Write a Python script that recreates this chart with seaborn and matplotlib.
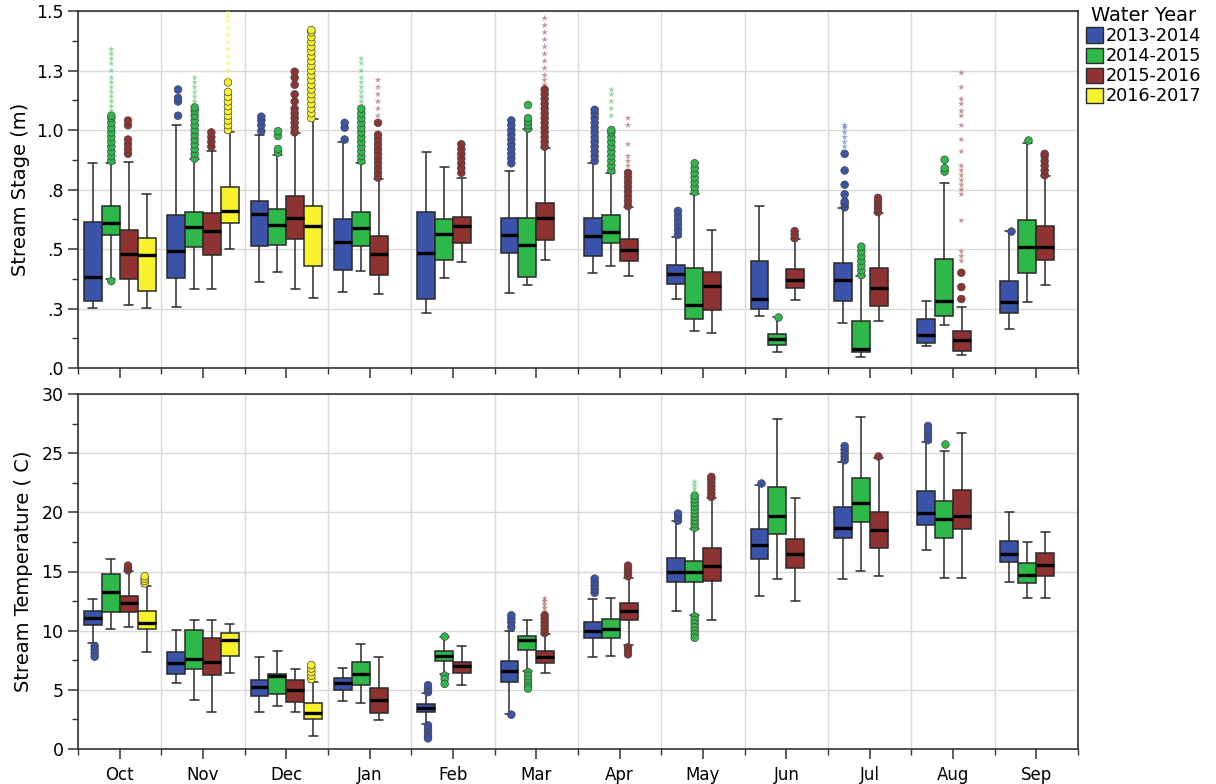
import numpy as np
import pandas as pd
import matplotlib
matplotlib.use("Agg")
import matplotlib.pyplot as plt
import seaborn as sns
from matplotlib.patches import Patch
from matplotlib.ticker import FixedLocator, MultipleLocator

# ---------- data ----------
months = ["Oct", "Nov", "Dec", "Jan", "Feb", "Mar", "Apr", "May", "Jun", "Jul", "Aug", "Sep"]
years = ["2013-2014", "2014-2015", "2015-2016", "2016-2017"]
colors = ["#3b53a8", "#2fb84a", "#8e3332", "#f7f22b"]

# box summaries per month: [low whisker, q1, median, q3, high whisker]
stage_2013 = [[0.252, 0.280, 0.382, 0.613, 0.861], [0.258, 0.377, 0.490, 0.641, 1.020],
              [0.360, 0.511, 0.646, 0.702, 0.979], [0.319, 0.412, 0.529, 0.626, 0.951],
              [0.232, 0.290, 0.482, 0.657, 0.908], [0.314, 0.482, 0.560, 0.632, 0.828],
              [0.398, 0.471, 0.556, 0.629, 0.863], [0.290, 0.352, 0.394, 0.431, 0.550],
              [0.218, 0.250, 0.288, 0.451, 0.681], [0.188, 0.282, 0.368, 0.441, 0.671],
              [0.092, 0.104, 0.140, 0.204, 0.280], [0.162, 0.232, 0.277, 0.367, 0.574]]
stage_2014 = [[0.373, 0.557, 0.611, 0.682, 0.863], [0.331, 0.507, 0.594, 0.655, 0.877],
              [0.403, 0.515, 0.599, 0.667, 0.895], [0.408, 0.513, 0.590, 0.654, 0.863],
              [0.378, 0.452, 0.562, 0.627, 0.843], [0.349, 0.384, 0.518, 0.632, 1.003],
              [0.430, 0.525, 0.570, 0.641, 0.821], [0.154, 0.207, 0.266, 0.419, 0.730],
              [0.069, 0.098, 0.123, 0.144, 0.213], [0.046, 0.066, 0.081, 0.196, 0.387],
              [0.181, 0.217, 0.280, 0.457, 0.779], [0.277, 0.401, 0.508, 0.622, 0.947]]
stage_2015 = [[0.263, 0.373, 0.479, 0.580, 0.866], [0.331, 0.476, 0.577, 0.650, 0.910],
              [0.331, 0.542, 0.629, 0.723, 0.986], [0.311, 0.392, 0.480, 0.556, 0.794],
              [0.447, 0.527, 0.595, 0.634, 0.797], [0.452, 0.538, 0.632, 0.695, 0.926],
              [0.388, 0.451, 0.497, 0.541, 0.678], [0.148, 0.242, 0.343, 0.405, 0.580],
              [0.284, 0.336, 0.370, 0.417, 0.541], [0.199, 0.261, 0.336, 0.419, 0.653],
              [0.056, 0.071, 0.119, 0.155, 0.256], [0.349, 0.454, 0.510, 0.595, 0.808]]
stage_2016 = [[0.252, 0.324, 0.473, 0.548, 0.731], [0.499, 0.608, 0.658, 0.761, 0.992],
              [0.296, 0.430, 0.595, 0.679, 1.046], None, None, None, None, None, None,
              None, None, None]

temp_2013 = [[8.95, 10.44, 11.09, 11.65, 12.66], [5.54, 6.36, 7.26, 8.16, 10.07],
             [3.15, 4.47, 5.26, 5.85, 7.77], [4.05, 4.95, 5.60, 5.97, 6.87],
             [2.14, 3.10, 3.46, 3.77, 4.73], [2.95, 5.66, 6.59, 7.46, 9.93],
             [7.77, 9.37, 9.93, 10.75, 12.64], [11.68, 14.10, 14.97, 16.18, 19.25],
             [12.95, 16.07, 17.28, 18.57, 22.32], [14.38, 17.87, 18.71, 20.43, 24.29],
             [16.80, 18.94, 19.98, 21.78, 25.98], [14.10, 15.79, 16.52, 17.56, 20.07]]
temp_2014 = [[10.16, 11.60, 13.28, 14.78, 16.07], [4.17, 6.75, 7.60, 10.07, 10.86],
             [3.63, 4.67, 6.16, 6.36, 8.25], [3.88, 5.40, 6.30, 7.35, 8.89],
             [6.30, 7.46, 7.82, 8.25, 9.45], [6.56, 8.39, 9.23, 9.57, 10.86],
             [7.85, 9.37, 10.10, 10.98, 12.75], [11.31, 14.10, 14.92, 15.90, 18.60],
             [14.38, 18.15, 19.70, 22.12, 27.89], [15.06, 19.19, 20.77, 22.88, 28.09],
             [14.47, 17.87, 19.42, 20.97, 25.22], [12.78, 13.99, 14.69, 15.70, 17.48]]
temp_2015 = [[10.33, 11.60, 12.33, 12.95, 15.08], [3.10, 6.25, 7.37, 9.37, 10.86],
             [3.10, 3.97, 4.95, 5.85, 6.73], [2.48, 3.04, 4.17, 5.15, 7.77],
             [5.38, 6.42, 6.98, 7.37, 8.67], [6.44, 7.26, 7.77, 8.25, 9.68],
             [8.75, 10.86, 11.65, 12.33, 14.49], [10.86, 14.18, 15.48, 17.00, 21.19],
             [12.47, 15.28, 16.49, 17.73, 21.25], [14.58, 16.97, 18.49, 20.07, 24.57],
             [14.47, 18.57, 19.70, 21.89, 26.68], [12.78, 14.66, 15.51, 16.55, 18.38]]
temp_2016 = [[8.19, 10.16, 10.67, 11.68, 13.76], [6.44, 7.82, 9.17, 9.77, 10.55],
             [1.07, 2.56, 3.04, 3.88, 5.63], None, None, None, None, None, None,
             None, None, None]

# outliers: (month, year index, values); circles = outliers, stars = extremes
stage_circles = [
    ("Oct", 1, [0.365, 0.87, 0.89, 0.91, 0.93, 0.95, 0.97, 0.99, 1.01, 1.03, 1.05, 1.06]),
    ("Oct", 2, [0.90, 0.92, 0.94, 0.96, 1.02, 1.04]),
    ("Nov", 0, [1.06, 1.12, 1.135, 1.17]),
    ("Nov", 1, [0.88, 0.90, 0.92, 0.94, 0.96, 0.98, 1.00, 1.02, 1.04, 1.06, 1.08, 1.095]),
    ("Nov", 2, [0.93, 0.95, 0.97, 0.99]),
    ("Nov", 3, [1.00, 1.02, 1.04, 1.06, 1.08, 1.10, 1.12, 1.14, 1.16, 1.20]),
    ("Dec", 0, [0.995, 1.02, 1.04, 1.056]),
    ("Dec", 1, [0.905, 0.92, 0.975, 0.995]),
    ("Dec", 2, [0.99, 1.01, 1.03, 1.05, 1.07, 1.09, 1.12, 1.15, 1.19, 1.22, 1.245]),
    ("Dec", 3, [1.05, 1.07, 1.09, 1.11, 1.13, 1.15, 1.17, 1.19, 1.21, 1.23, 1.25, 1.27,
                1.29, 1.31, 1.33, 1.35, 1.37, 1.39, 1.41, 1.42]),
    ("Jan", 0, [0.96, 1.01, 1.03]),
    ("Jan", 1, [0.87, 0.89, 0.91, 0.93, 0.95, 0.97, 0.99, 1.01, 1.03, 1.05, 1.07, 1.09]),
    ("Jan", 2, [0.80, 0.82, 0.84, 0.86, 0.88, 0.90, 0.92, 0.94, 0.96, 0.98, 1.03]),
    ("Feb", 2, [0.82, 0.84, 0.86, 0.88, 0.90, 0.92, 0.94]),
    ("Mar", 0, [0.86, 0.88, 0.90, 0.92, 0.94, 0.96, 0.98, 1.00, 1.02, 1.04]),
    ("Mar", 1, [1.005, 1.02, 1.035, 1.05, 1.105]),
    ("Mar", 2, [0.93, 0.95, 0.97, 0.99, 1.01, 1.03, 1.05, 1.07, 1.09, 1.11, 1.13, 1.15, 1.17]),
    ("Apr", 0, [0.87, 0.89, 0.91, 0.93, 0.95, 0.97, 0.99, 1.01, 1.03, 1.05, 1.07, 1.085]),
    ("Apr", 1, [0.83, 0.85, 0.87, 0.89, 0.91, 0.93, 0.95, 0.97, 0.99, 1.00]),
    ("Apr", 2, [0.68, 0.70, 0.72, 0.74, 0.76, 0.78, 0.80, 0.82]),
    ("May", 0, [0.56, 0.58, 0.60, 0.62, 0.64, 0.66]),
    ("May", 1, [0.74, 0.76, 0.78, 0.80, 0.82, 0.84, 0.86]),
    ("Jun", 1, [0.215]),
    ("Jun", 2, [0.545, 0.56, 0.575]),
    ("Jul", 0, [0.675, 0.69, 0.70, 0.73, 0.77, 0.83, 0.90]),
    ("Jul", 1, [0.39, 0.41, 0.43, 0.45, 0.47, 0.49, 0.51]),
    ("Jul", 2, [0.655, 0.67, 0.685, 0.70, 0.715]),
    ("Aug", 1, [0.825, 0.84, 0.875]),
    ("Aug", 2, [0.29, 0.34, 0.40]),
    ("Sep", 0, [0.575]),
    ("Sep", 1, [0.96]),
    ("Sep", 2, [0.81, 0.83, 0.85, 0.87, 0.89, 0.90]),
]
stage_stars = [
    ("Oct", 1, [1.08, 1.10, 1.12, 1.14, 1.16, 1.18, 1.20, 1.22, 1.25, 1.28, 1.30, 1.32, 1.34]),
    ("Nov", 1, [1.10, 1.12, 1.14, 1.16, 1.18, 1.20, 1.22]),
    ("Nov", 3, [1.22, 1.25, 1.28, 1.31, 1.34, 1.37, 1.40, 1.43, 1.46, 1.48, 1.50]),
    ("Jan", 1, [1.10, 1.12, 1.14, 1.16, 1.18, 1.20, 1.22, 1.25, 1.28, 1.30]),
    ("Jan", 2, [1.06, 1.09, 1.12, 1.15, 1.18, 1.21]),
    ("Mar", 2, [1.19, 1.21, 1.23, 1.26, 1.29, 1.32, 1.35, 1.38, 1.41, 1.44, 1.47]),
    ("Apr", 1, [1.06, 1.09, 1.12, 1.15, 1.17]),
    ("Apr", 2, [0.85, 0.87, 0.89, 0.94, 1.02, 1.05]),
    ("Jul", 0, [0.93, 0.95, 0.97, 0.99, 1.01, 1.02]),
    ("Aug", 2, [0.45, 0.47, 0.49, 0.62, 0.73, 0.75, 0.77, 0.79, 0.81, 0.83, 0.85, 0.91,
                0.96, 1.02, 1.06, 1.08, 1.11, 1.13, 1.18, 1.24]),
]
temp_circles = [
    ("Oct", 0, [8.7, 8.4, 8.1, 7.8]),
    ("Oct", 2, [15.1, 15.3, 15.5]),
    ("Oct", 3, [14.0, 14.2, 14.4, 14.6]),
    ("Dec", 3, [5.9, 6.2, 6.5, 6.8, 7.1]),
    ("Feb", 0, [4.8, 5.1, 5.4, 2.0, 1.7, 1.4, 1.1, 0.9]),
    ("Feb", 1, [9.5, 6.2, 5.9, 5.5]),
    ("Mar", 0, [10.3, 10.7, 11.0, 11.3, 2.9]),
    ("Mar", 1, [6.5, 6.2, 5.9, 5.6, 5.3, 5.1]),
    ("Mar", 2, [9.8, 10.1, 10.4, 10.7, 11.0, 11.3]),
    ("Apr", 0, [13.2, 13.5, 13.8, 14.1, 14.4]),
    ("Apr", 2, [14.6, 14.9, 15.2, 15.5, 8.6, 8.3, 8.0]),
    ("May", 0, [19.3, 19.6, 19.9]),
    ("May", 1, [18.7, 19.0, 19.3, 19.6, 19.9, 20.2, 20.5, 20.8, 21.1, 21.4,
                11.2, 10.9, 10.6, 10.3, 10.0, 9.7, 9.4]),
    ("May", 2, [21.3, 21.6, 21.9, 22.2, 22.5, 22.8, 23.0]),
    ("Jun", 0, [22.5]),
    ("Jul", 0, [24.4, 24.7, 25.0, 25.3, 25.6]),
    ("Jul", 2, [24.8]),
    ("Aug", 0, [26.1, 26.4, 26.7, 27.0, 27.3]),
    ("Aug", 1, [25.8]),
]
temp_stars = [
    ("Mar", 2, [11.6, 11.9, 12.2, 12.5, 12.7]),
    ("May", 1, [21.7, 22.0, 22.3, 22.6]),
]

stage_ticks = [0, 0.25, 0.5, 0.75, 1.0, 1.25, 1.5]
stage_tick_labels = [".0", ".3", ".5", ".8", "1.0", "1.3", "1.5"]
temp_ticks = [0, 5, 10, 15, 20, 25, 30]

# ---------- helpers ----------
def box_frame(series):
    rows = []
    for year, boxes in zip(years, series):
        for month, stats in zip(months, boxes):
            if stats is None:
                continue
            for v in stats:
                rows.append((month, year, v))
    return pd.DataFrame(rows, columns=["month", "year", "value"])


def point_frame(points):
    rows = [(m, years[i], v) for m, i, vals in points for v in vals]
    return pd.DataFrame(rows, columns=["month", "year", "value"])


def draw_panel(ax, series, circles, stars):
    common = dict(x="month", y="value", hue="year", order=months, hue_order=years,
                  palette=colors, legend=False, ax=ax)
    sns.boxplot(data=box_frame(series), saturation=1, width=0.86, whis=(0, 100),
                showfliers=False, linecolor="#2a2a2a", linewidth=1.1,
                medianprops=dict(color="black", linewidth=2.4), **common)
    sns.stripplot(data=point_frame(circles), dodge=True, jitter=False, size=5.5,
                  linewidth=0.5, edgecolor="#444444", **common)
    sns.stripplot(data=point_frame(stars), dodge=True, jitter=False, size=5,
                  marker="*", linewidth=0, alpha=0.5, **common)

    ax.set_xlim(-0.5, len(months) - 0.5)
    ax.xaxis.set_minor_locator(FixedLocator(np.arange(len(months) + 1) - 0.5))
    ax.set_axisbelow(True)
    ax.grid(axis="x", which="minor", color="#d9d9d9", linewidth=1)
    ax.grid(axis="y", which="major", color="#d9d9d9", linewidth=1)
    ax.tick_params(axis="both", which="major", length=7.5, width=1.1, color="#333333",
                   labelcolor="black", labelsize=12.5, direction="out", pad=3)
    ax.tick_params(axis="both", which="minor", length=4, width=1.0, color="#333333",
                   direction="out")
    for s in ax.spines.values():
        s.set_visible(True)
        s.set_color("#333333")
        s.set_linewidth(1.2)
    ax.set_xlabel("")


# ---------- plot ----------
sns.set_style("ticks")
plt.rcParams["font.family"] = ["DejaVu Sans"]
plt.rcParams["text.color"] = "black"
plt.rcParams["axes.labelcolor"] = "black"

fig = plt.figure(figsize=(12.16, 7.84), dpi=100)
ax_top = fig.add_axes([78 / 1216, 1 - 368 / 784, 1000 / 1216, 357 / 784])
ax_bot = fig.add_axes([78 / 1216, 1 - 749 / 784, 1000 / 1216, 355 / 784])

draw_panel(ax_top, [stage_2013, stage_2014, stage_2015, stage_2016], stage_circles, stage_stars)
ax_top.set_ylim(0, 1.5)
ax_top.set_yticks(stage_ticks)
ax_top.set_yticklabels(stage_tick_labels, fontsize=12.5)
ax_top.yaxis.set_minor_locator(MultipleLocator(0.125))
ax_top.set_xticklabels([])
ax_top.set_ylabel("Stream Stage (m)", fontsize=14)
ax_top.yaxis.set_label_coords(-0.048, 0.5)

draw_panel(ax_bot, [temp_2013, temp_2014, temp_2015, temp_2016], temp_circles, temp_stars)
ax_bot.set_ylim(0, 30)
ax_bot.set_yticks(temp_ticks)
ax_bot.yaxis.set_minor_locator(MultipleLocator(2.5))
ax_bot.tick_params(axis="x", which="major", labelsize=12, pad=5)
ax_bot.set_ylabel("Stream Temperature ( C)", fontsize=14)
ax_bot.yaxis.set_label_coords(-0.045, 0.5)

handles = [Patch(facecolor=c, edgecolor="#2a2a2a", label=y) for c, y in zip(colors, years)]
fig.legend(handles=handles, title="Water Year", loc="upper left",
           bbox_to_anchor=(1086 / 1216, 1 - 6 / 784), frameon=False, fontsize=12.7,
           title_fontsize=14, handlelength=0.95, handleheight=0.95, handletextpad=0.15,
           labelspacing=0.12, borderaxespad=0, borderpad=0)

fig.savefig("out.png", dpi=100)
